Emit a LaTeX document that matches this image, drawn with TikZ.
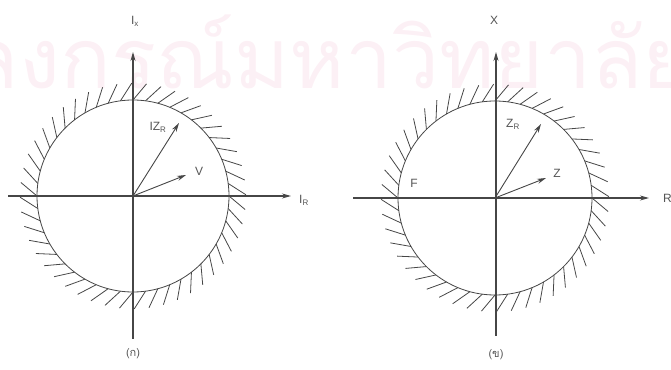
\documentclass[tikz,border=0pt]{standalone}
\usepackage{fontspec}
\setmainfont{Liberation Sans}
\newfontfamily\thaifont[Script=Thai]{Loma}
\usetikzlibrary{arrows.meta}
\definecolor{ln}{RGB}{70,70,70}
\definecolor{tx}{RGB}{85,85,85}
\definecolor{wm}{RGB}{252,240,245}
\tikzset{
  axis/.style={draw=ln, line width=1.1pt, -{Stealth[length=9pt,width=5pt]}},
  vec/.style={draw=ln, line width=0.9pt, -{Stealth[length=9pt,width=5pt]}},
  rim/.style={draw=ln, line width=0.8pt},
  hatch/.style={draw=ln, line width=0.8pt},
  lbl/.style={text=tx, inner sep=0pt, font=\fontsize{12}{14}\selectfont},
  panelcap/.style={text=tx, inner sep=0pt, font=\thaifont\fontsize{11}{13}\selectfont},
}
\begin{document}
\begin{tikzpicture}[x=1pt,y=1pt]
\useasboundingbox (0,0) rectangle (671,369);
\begin{scope}
\clip (0,0) rectangle (671,369);
\node[anchor=base east, text=wm, inner sep=0pt, font=\thaifont\fontsize{84}{92}\selectfont] (wmark) at (692,280) {จุฬาลงกรณ์มหาวิทยาลัย};
\end{scope}
% ---- left panel
\coordinate (cL) at (133,173);
\coordinate (hLa) at (8,173);
\coordinate (hLb) at (291,173);
\coordinate (vLa) at (133,30);
\coordinate (vLb) at (133,317);
\draw[rim] (cL) circle[radius=96];
\foreach \a in {0,7.5,...,355}
  \draw[hatch, shift={(cL)}] (\a:96) -- ++(\a-40:21);
\draw[axis] (hLa) -- (hLb);
\draw[axis] (vLa) -- (vLb);
\coordinate (izr) at (179,246);
\coordinate (vv) at (186,194);
\draw[vec] (cL) -- (izr);
\draw[vec] (cL) -- (vv);
\node[lbl] (lIx) at (135,348) {I\textsubscript{x}};
\node[lbl, anchor=west] (lIR) at (299,169) {I\textsubscript{R}};
\node[lbl] (lIZR) at (158,242) {IZ\textsubscript{R}};
\node[lbl] (lV) at (199,198) {V};
\node[panelcap] (capL) at (133,15) {(ก)};
% ---- right panel
\coordinate (cR) at (495,171);
\coordinate (hRa) at (353,171);
\coordinate (hRb) at (649,171);
\coordinate (vRa) at (496,33);
\coordinate (vRb) at (496,317);
\draw[rim] (cR) circle[radius=97];
\foreach \a in {0,7.5,...,355}
  \draw[hatch, shift={(cR)}] (\a:97) -- ++(\a-40:21);
\draw[axis] (hRa) -- (hRb);
\draw[axis] (vRa) -- (vRb);
\coordinate (zr) at (541,245);
\coordinate (zz) at (546,191);
\draw[vec] (cR) -- (zr);
\draw[vec] (cR) -- (zz);
\node[lbl] (lX) at (494,349) {X};
\node[lbl, anchor=west] (lR) at (663,171) {R};
\node[lbl] (lZR) at (513,245) {Z\textsubscript{R}};
\node[lbl] (lZ) at (557,196) {Z};
\node[lbl] (lF) at (414,186) {F};
\node[panelcap] (capR) at (496,14) {(ข)};
\end{tikzpicture}
\end{document}
